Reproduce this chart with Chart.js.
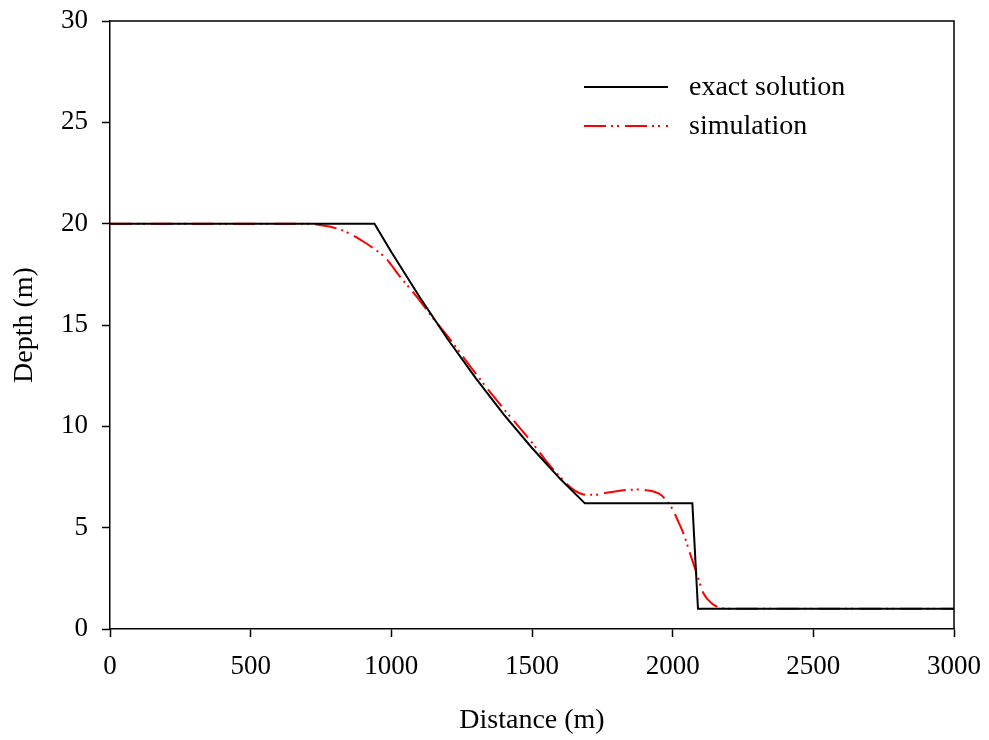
<!DOCTYPE html>
<html>
<head>
<meta charset="utf-8">
<script src="https://cdn.jsdelivr.net/npm/chart.js@4/dist/chart.umd.min.js"></script>
<style>
html,body{margin:0;padding:0;background:#fff;}
#c{display:block;}
</style>
</head>
<body>
<canvas id="c" width="989" height="740"></canvas>
<script>
// ---- data ----
const seriesNames = ["exact solution", "simulation"];
const exactX     = [0, 940, 1000, 1100, 1200, 1300, 1400, 1500, 1600, 1688, 2070, 2090, 3000];
const exactDepth = [20, 20, 18.6, 16.39, 14.31, 12.38, 10.58, 8.93, 7.41, 6.2, 6.2, 1.0, 1.0];
const simX     = [0, 700, 740, 780, 820, 860, 900, 940, 980, 1030, 1090, 1150, 1200, 1300, 1400, 1500, 1550, 1600, 1640, 1680, 1720, 1765, 1800, 1840, 1880, 1910, 1940, 1960, 1980, 2000, 2020, 2040, 2060, 2085, 2110, 2140, 2170, 2200, 3000];
const simDepth = [20, 20, 19.95, 19.86, 19.7, 19.45, 19.12, 18.75, 18.3, 17.4, 16.4, 15.3, 14.45, 12.6, 10.85, 9.2, 8.3, 7.5, 6.95, 6.65, 6.62, 6.72, 6.8, 6.86, 6.88, 6.84, 6.75, 6.6, 6.3, 5.9, 5.3, 4.65, 3.8, 2.75, 1.75, 1.25, 1.05, 1.0, 1.0];
const xTicks = [0, 500, 1000, 1500, 2000, 2500, 3000];
const yTicks = [0, 5, 10, 15, 20, 25, 30];
const xTitle = "Distance (m)";
const yTitle = "Depth (m)";

const toPts = (xs, ys) => xs.map((x, i) => ({x: x, y: ys[i]}));
const SERIF = "'Liberation Serif', 'Times New Roman', serif";
const simDash = [22, 5, 2, 4, 2, 6];

const framePlugin = {
  id: 'frame',
  afterDraw(chart) {
    const {ctx, chartArea: a} = chart;
    ctx.save();
    ctx.strokeStyle = '#000';
    ctx.lineWidth = 1.5;
    ctx.beginPath();
    ctx.moveTo(a.left, a.top);
    ctx.lineTo(a.right, a.top);
    ctx.lineTo(a.right, a.bottom);
    ctx.stroke();
    // legend
    const lx0 = a.left + 474, lx1 = a.left + 558, tx = a.left + 579;
    const rows = [a.top + 66, a.top + 105];
    chart.data.datasets.forEach((ds, i) => {
      const y = rows[i];
      ctx.strokeStyle = ds.borderColor;
      ctx.lineWidth = 2;
      ctx.setLineDash(ds.borderDash || []);
      ctx.beginPath();
      ctx.moveTo(lx0, y);
      ctx.lineTo(lx1, y);
      ctx.stroke();
      ctx.setLineDash([]);
      ctx.fillStyle = '#000';
      ctx.font = "28px " + SERIF;
      ctx.textAlign = 'left';
      ctx.textBaseline = 'middle';
      ctx.fillText(ds.label, tx, y + 1);
    });
    ctx.restore();
  }
};

new Chart(document.getElementById('c'), {
  type: 'line',
  data: {
    datasets: [
      {label: seriesNames[0], data: toPts(exactX, exactDepth), borderColor: '#000000', borderWidth: 2, pointRadius: 0, tension: 0, fill: false},
      {label: seriesNames[1], data: toPts(simX, simDepth), borderColor: '#ff0000', borderWidth: 2, borderDash: simDash, pointRadius: 0, tension: 0.3, cubicInterpolationMode: 'monotone', fill: false}
    ]
  },
  options: {
    responsive: false,
    animation: false,
    devicePixelRatio: 1,
    layout: {padding: {top: 21, right: 35, bottom: 0, left: 0}},
    plugins: {legend: {display: false}, tooltip: {enabled: false}},
    scales: {
      x: {
        type: 'linear',
        min: xTicks[0], max: xTicks[xTicks.length - 1],
        afterBuildTicks: s => { s.ticks = xTicks.map(v => ({value: v})); },
        afterFit: s => { s.height = 111; s.paddingLeft = 0; s.paddingRight = 0; },
        grid: {display: true, drawOnChartArea: false, drawTicks: true, tickLength: 8, tickColor: '#000', tickWidth: 1.5},
        border: {display: true, color: '#000', width: 1.5},
        ticks: {color: '#000', font: {family: SERIF, size: 27}, padding: 14, maxRotation: 0, autoSkip: false, callback: v => String(v)},
        title: {display: true, text: xTitle, color: '#000', font: {family: SERIF, size: 28}, padding: {top: 0, bottom: 3}}
      },
      y: {
        type: 'linear',
        min: yTicks[0], max: yTicks[yTicks.length - 1],
        afterBuildTicks: s => { s.ticks = yTicks.map(v => ({value: v})); },
        afterFit: s => { s.width = 110; s.paddingTop = 0; s.paddingBottom = 0; },
        grid: {display: true, drawOnChartArea: false, drawTicks: true, tickLength: 8, tickColor: '#000', tickWidth: 1.5},
        border: {display: true, color: '#000', width: 1.5},
        ticks: {color: '#000', font: {family: SERIF, size: 27}, padding: 14, autoSkip: false, callback: v => String(v)},
        title: {display: true, text: yTitle, color: '#000', font: {family: SERIF, size: 28}, padding: {top: 8, bottom: 0}}
      }
    }
  },
  plugins: [framePlugin]
});
</script>
</body>
</html>
